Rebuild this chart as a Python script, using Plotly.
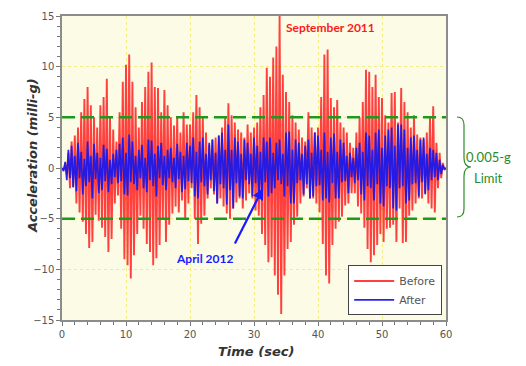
import plotly.graph_objects as go

# Sample interval of the recordings (s)
DT = 0.25

# "Before" (September 2011) acceleration, milli-g, one value every 0.25 s
before = [
    0.0, -0.2, 0.4, -0.6,   1.5, -2.0, 2.6, -1.9,   3.2, -3.5, 4.0, -4.4,   5.5, -5.3, 6.8, -6.5,
    8.0, -7.9, 6.2, -7.3,   5.0, -4.6, 4.0, -5.2,   6.2, -5.9, 7.0, -6.8,   8.8, -8.3, 5.0, -7.0,
    3.8, -3.5, 2.6, -2.7,   5.5, -6.0, 8.5, -9.0,   10.2, -9.6, 11.2, -10.9, 8.5, -8.6, 6.0, -6.5,
    4.0, -4.7, 6.5, -6.0,   8.0, -7.5, 9.5, -8.3,   10.4, -9.6, 8.0, -8.9,  7.9, -7.6, 5.5, -5.0,
    7.7, -7.3, 6.2, -5.6,   5.0, -4.5, 4.2, -3.8,   5.0, -4.4, 3.5, -3.2,   5.5, -5.0, 4.3, -3.5,
    4.3, -2.0, 5.5, -5.0,   7.2, -7.5, 6.0, -5.5,   5.0, -4.7, 3.5, -3.0,   2.3, -2.0, 2.8, -2.6,
    3.0, -3.5, 3.2, -3.0,   4.0, -3.8, 5.0, -4.5,   6.4, -5.0, 5.2, -4.0,   4.5, -3.4, 3.8, -3.0,
    3.5, -4.0, 3.0, -3.2,   4.3, -2.5, 3.5, -3.0,   4.0, -4.2, 4.5, -4.7,   6.0, -6.5, 7.2, -7.6,
    9.9, -9.3, 9.0, -8.8,   10.9, -10.6, 12.0, -12.5, 15.0, -14.4, 9.2, -10.6, 7.5, -8.0, 6.5, -7.3,
    5.2, -5.6, 4.5, -4.8,   3.8, -3.5, 3.0, -2.8,   2.6, -2.0, 5.5, -3.0,   4.0, -3.0, 3.5, -3.5,
    4.0, -4.4, 7.0, -7.5,   11.2, -10.6, 11.7, -11.4, 6.9, -7.6, 6.0, -6.0, 6.7, -5.3, 4.5, -4.8,
    4.0, -3.7, 3.5, -3.5,   2.5, -2.5, 2.0, -2.5,   3.5, -3.8, 5.0, -4.5,   6.5, -5.9, 9.7, -8.0,
    9.5, -9.3, 8.0, -8.6,   9.2, -7.6, 7.0, -6.5,   6.9, -7.3, 5.2, -6.0,   4.5, -5.9, 7.4, -5.6,
    7.5, -7.3, 4.5, -4.0,   7.9, -7.4, 6.5, -7.3,   5.5, -4.7, 4.0, -4.2,   5.2, -3.5, 3.3, -3.0,
    3.0, -3.0, 2.8, -2.5,   3.5, -3.5, 5.0, -4.0,   6.1, -4.4, 2.5, -2.0,   1.5, -1.0, 0.5, -0.2,
    0.0,
]

# "After" (April 2012) acceleration, milli-g, one value every 0.25 s
after = [
    0.0, -0.3, 0.6, -1.2,   1.8, -1.0, 2.2, -1.9,   1.2, -2.3, 2.5, -1.0,   1.6, -2.6, 0.9, -1.8,
    2.6, -1.4, 1.2, -3.0,   2.4, -1.1, 1.5, -2.5,   1.0, -2.2, 2.3, -1.3,   1.9, -2.4, 0.8, -1.6,
    1.4, -0.9, 1.8, -1.5,   2.4, -1.3, 3.0, -2.6,   1.5, -2.7, 3.3, -1.4,   2.6, -1.6, 1.2, -2.2,
    1.8, -1.0, 2.3, -2.0,   1.0, -2.4, 2.8, -1.2,   2.7, -1.8, 1.4, -2.8,   2.2, -1.0, 2.5, -1.7,
    1.2, -2.2, 1.8, -1.0,   2.0, -1.4, 1.0, -2.0,   2.4, -1.1, 1.6, -2.4,   1.2, -2.1, 2.5, -1.3,
    2.2, -1.5, 3.0, -2.8,   1.6, -3.0, 2.6, -1.4,   3.0, -1.8, 1.4, -2.6,   2.5, -1.2, 2.8, -2.3,
    1.5, -3.5, 3.2, -1.6,   3.5, -2.0, 1.8, -3.6,   4.3, -2.2, 1.8, -4.0,   3.0, -1.5, 2.6, -2.8,
    1.4, -3.0, 2.8, -1.2,   2.5, -1.6, 1.4, -2.8,   3.0, -1.5, 2.2, -3.0,   1.6, -3.2, 3.0, -1.4,
    2.6, -2.8, 3.0, -2.5,   1.5, -2.0, 2.5, -1.2,   2.8, -1.6, 1.4, -2.8,   3.5, -1.8, 3.6, -3.5,
    1.8, -3.5, 2.8, -1.5,   2.5, -1.2, 1.4, -2.6,   2.2, -1.6, 2.8, -3.0,   1.5, -2.8, 3.5, -1.8,
    3.2, -1.7, 1.8, -3.2,   3.5, -3.0, 1.6, -3.4,   3.0, -1.5, 3.4, -3.0,   1.6, -3.0, 2.8, -1.4,
    2.5, -1.3, 1.2, -2.5,   1.5, -0.9, 1.0, -1.5,   2.0, -1.2, 2.5, -2.6,   1.6, -3.2, 3.5, -1.8,
    3.2, -2.0, 1.8, -3.2,   3.5, -1.6, 3.8, -3.5,   2.0, -3.8, 3.2, -1.8,   3.8, -2.0, 4.0, -4.0,
    2.2, -4.2, 4.3, -2.0,   4.3, -1.8, 3.8, -3.5,   2.0, -3.2, 3.0, -1.6,   3.2, -1.5, 1.8, -2.8,
    2.8, -1.4, 3.0, -2.6,   1.4, -2.2, 2.0, -1.2,   1.8, -0.9, 1.5, -1.2,   0.8, -0.6, 0.3, -0.1,
    0.0,
]

time_before = [i * DT for i in range(len(before))]
time_after = [i * DT for i in range(len(after))]

limit = 5.0
x_ticks = [0, 10, 20, 30, 40, 50, 60]
y_ticks = [-15, -10, -5, 0, 5, 10, 15]

# The page body adds an 8 px offset; layout is laid out in window pixels.
OFF = 8
WIN_W, WIN_H = 526, 366
L, R, T, B = 62, 80, 16, 46          # plot area in window pixels
pw, ph = WIN_W - L - R, WIN_H - T - B


def px(x):
    return (x - L) / pw


def py(y):
    return (WIN_H - B - y) / ph


fig = go.Figure()
fig.add_trace(go.Scatter(x=time_before, y=before, mode="lines", name="Before",
                         line=dict(color="rgba(255,30,30,0.85)", width=1.9)))
fig.add_trace(go.Scatter(x=time_after, y=after, mode="lines", name="After",
                         line=dict(color="rgba(25,25,235,0.95)", width=1.7)))

# 5 milli-g limits
for lv in (limit, -limit):
    fig.add_shape(type="line", xref="x", yref="y", x0=0, x1=60, y0=lv, y1=lv,
                  line=dict(color="#1c9a1c", width=2.5, dash="13px,6px"))

# curly brace on the right
brace = (
    f"M {px(457)},{py(117)} "
    f"Q {px(464)},{py(117)} {px(464)},{py(125)} "
    f"L {px(464)},{py(158)} "
    f"Q {px(464)},{py(167)} {px(471)},{py(167)} "
    f"Q {px(464)},{py(167)} {px(464)},{py(176)} "
    f"L {px(464)},{py(209)} "
    f"Q {px(464)},{py(217)} {px(457)},{py(217)}"
)
fig.add_shape(type="path", xref="paper", yref="paper", path=brace,
              line=dict(color="#2e8b2e", width=1.2))

green_font = dict(family="Lato", size=13, color="#2a8a2a")
fig.add_annotation(xref="paper", yref="paper", x=px(488), y=py(157), text="0.005-g",
                   xanchor="center", yanchor="middle", showarrow=False, font=green_font)
fig.add_annotation(xref="paper", yref="paper", x=px(488), y=py(178), text="Limit",
                   xanchor="center", yanchor="middle", showarrow=False, font=green_font)

fig.add_annotation(x=41.9, y=13.9, text="<b>September 2011</b>", showarrow=False,
                   xanchor="center", yanchor="middle",
                   font=dict(family="Lato", size=12, color="#ff1a1a"))
fig.add_annotation(x=22.3, y=-8.9, text="<b>April 2012</b>", showarrow=False,
                   xanchor="center", yanchor="middle",
                   font=dict(family="Lato", size=12, color="#1a1aff"))
fig.add_annotation(x=31.4, y=-2.0, ax=26.9, ay=-7.6, axref="x", ayref="y", text="",
                   showarrow=True, arrowhead=2, arrowsize=1, arrowwidth=2.2,
                   arrowcolor="#1a1aff")

# axis titles
title_font = dict(family="DejaVu Sans", size=13, color="#333")
fig.add_annotation(xref="paper", yref="paper", x=px(32), y=py(156), textangle=-90,
                   text="<b><i>Acceleration (milli-g)</i></b>", showarrow=False,
                   xanchor="center", yanchor="middle", font=title_font)
fig.add_annotation(xref="paper", yref="paper", x=px(256), y=py(352),
                   text="<b><i>Time (sec)</i></b>", showarrow=False,
                   xanchor="center", yanchor="middle", font=title_font)

axis_common = dict(showline=True, linecolor="#8c8c8c", linewidth=1.5, mirror=True,
                   ticks="outside", ticklen=4, tickcolor="#777",
                   showgrid=True, gridcolor="#f0ec8a", griddash="dot", gridwidth=1,
                   zeroline=False, automargin=False,
                   tickfont=dict(family="DejaVu Sans", size=10, color="#555"))

fig.update_xaxes(range=[0, 60], tickvals=x_ticks, **axis_common,
                 minor=dict(dtick=2, ticks="outside", ticklen=3, tickcolor="#777", showgrid=False))
fig.update_yaxes(range=[-15, 15], tickvals=y_ticks, **axis_common,
                 minor=dict(dtick=1, ticks="outside", ticklen=3, tickcolor="#777", showgrid=False))

fig.update_layout(
    width=WIN_W - OFF, height=WIN_H - OFF,
    margin=dict(l=L - OFF, r=R, t=T - OFF, b=B, autoexpand=False),
    paper_bgcolor="white",
    plot_bgcolor="#fbfbe6",
    showlegend=True,
    legend=dict(x=0.99, y=0.015, xanchor="right", yanchor="bottom",
                bgcolor="white", bordercolor="#444", borderwidth=1,
                font=dict(family="DejaVu Sans", size=11, color="#555"),
                tracegroupgap=0, itemwidth=40),
)

fig.write_html("out.html")
